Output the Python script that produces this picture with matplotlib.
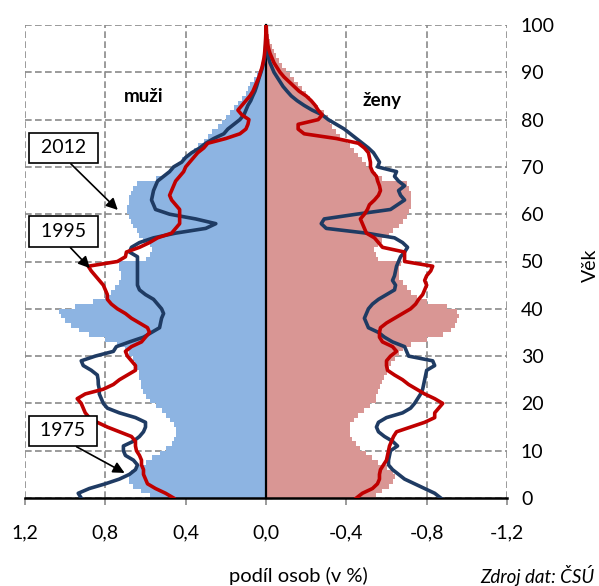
import matplotlib
matplotlib.use('Agg')
import matplotlib.pyplot as plt
from matplotlib.ticker import FuncFormatter, FixedLocator

plt.rcParams['font.family'] = ['Lato', 'DejaVu Sans']

ages = list(range(0, 101))

men_2012 = [0.58, 0.62, 0.66, 0.68, 0.68, 0.67, 0.64, 0.60, 0.57, 0.53,
            0.50, 0.47, 0.46, 0.45, 0.45, 0.46, 0.48, 0.50, 0.52, 0.55,
            0.58, 0.60, 0.61, 0.62, 0.62, 0.63, 0.63, 0.64, 0.65, 0.66,
            0.68, 0.70, 0.74, 0.80, 0.88, 0.93, 0.97, 1.00, 1.02, 1.03,
            0.95, 0.86, 0.80, 0.77, 0.75, 0.73, 0.72, 0.72, 0.73, 0.73,
            0.60, 0.58, 0.57, 0.58, 0.61, 0.63, 0.64, 0.66, 0.67, 0.68,
            0.69, 0.69, 0.68, 0.68, 0.67, 0.66, 0.64, 0.55, 0.50, 0.47,
            0.44, 0.42, 0.39, 0.36, 0.34, 0.31, 0.29, 0.27, 0.24, 0.22,
            0.20, 0.18, 0.16, 0.14, 0.12, 0.10, 0.09, 0.08, 0.06, 0.045,
            0.03, 0.022, 0.016, 0.011, 0.007, 0.005, 0.003, 0.002, 0.001, 0.001,
            0.001]

women_2012 = [0.55, 0.58, 0.61, 0.63, 0.64, 0.63, 0.60, 0.56, 0.53, 0.50,
              0.47, 0.45, 0.43, 0.42, 0.42, 0.42, 0.44, 0.46, 0.49, 0.52,
              0.55, 0.55, 0.56, 0.57, 0.58, 0.59, 0.60, 0.61, 0.62, 0.64,
              0.66, 0.68, 0.72, 0.80, 0.88, 0.92, 0.94, 0.95, 0.96, 0.95,
              0.90, 0.80, 0.75, 0.72, 0.70, 0.68, 0.66, 0.66, 0.66, 0.67,
              0.56, 0.55, 0.54, 0.56, 0.58, 0.61, 0.63, 0.66, 0.68, 0.70,
              0.71, 0.72, 0.72, 0.72, 0.72, 0.71, 0.70, 0.58, 0.55, 0.53,
              0.50, 0.48, 0.46, 0.44, 0.42, 0.40, 0.37, 0.35, 0.33, 0.32,
              0.31, 0.29, 0.26, 0.24, 0.22, 0.20, 0.18, 0.16, 0.14, 0.12,
              0.10, 0.08, 0.065, 0.05, 0.04, 0.03, 0.02, 0.015, 0.01, 0.007,
              0.005]

men_1995 = [0.46, 0.50, 0.55, 0.59, 0.60, 0.61, 0.61, 0.62, 0.62, 0.63,
            0.645, 0.65, 0.65, 0.67, 0.73, 0.79, 0.84, 0.88, 0.90, 0.91,
            0.92, 0.94, 0.90, 0.81, 0.76, 0.73, 0.69, 0.65, 0.65, 0.67,
            0.69, 0.70, 0.67, 0.62, 0.60, 0.58, 0.59, 0.63, 0.67, 0.70,
            0.74, 0.77, 0.79, 0.79, 0.80, 0.81, 0.83, 0.85, 0.87, 0.885,
            0.74, 0.70, 0.695, 0.63, 0.58, 0.54, 0.47, 0.45, 0.43, 0.43,
            0.43, 0.43, 0.45, 0.47, 0.48, 0.47, 0.46, 0.45, 0.43, 0.41,
            0.40, 0.38, 0.36, 0.34, 0.31, 0.29, 0.20, 0.13, 0.10, 0.09,
            0.085, 0.12, 0.14, 0.12, 0.10, 0.08, 0.065, 0.055, 0.045, 0.035,
            0.028, 0.02, 0.015, 0.01, 0.007, 0.005, 0.003, 0.002, 0.001, 0.001,
            0.0]

women_1995 = [0.45, 0.48, 0.53, 0.555, 0.565, 0.565, 0.57, 0.585, 0.60, 0.605,
              0.61, 0.615, 0.625, 0.635, 0.65, 0.72, 0.79, 0.84, 0.84, 0.86,
              0.88, 0.84, 0.79, 0.75, 0.71, 0.68, 0.64, 0.605, 0.60, 0.60,
              0.62, 0.65, 0.63, 0.58, 0.565, 0.565, 0.57, 0.60, 0.64, 0.68,
              0.72, 0.745, 0.76, 0.78, 0.79, 0.80, 0.79, 0.80, 0.82, 0.83,
              0.69, 0.69, 0.69, 0.58, 0.56, 0.54, 0.50, 0.49, 0.48, 0.47,
              0.49, 0.505, 0.515, 0.54, 0.56, 0.57, 0.565, 0.556, 0.55, 0.53,
              0.52, 0.52, 0.515, 0.51, 0.49, 0.46, 0.35, 0.19, 0.16, 0.16,
              0.26, 0.28, 0.26, 0.245, 0.225, 0.20, 0.165, 0.14, 0.115, 0.09,
              0.07, 0.055, 0.04, 0.03, 0.02, 0.013, 0.008, 0.005, 0.003, 0.002,
              0.001]

men_1975 = [0.92, 0.935, 0.88, 0.80, 0.73, 0.68, 0.65, 0.64, 0.66, 0.70,
            0.71, 0.71, 0.66, 0.63, 0.61, 0.60, 0.60, 0.65, 0.73, 0.79,
            0.81, 0.82, 0.83, 0.83, 0.835, 0.836, 0.84, 0.87, 0.91, 0.92,
            0.85, 0.76, 0.745, 0.68, 0.61, 0.57, 0.53, 0.525, 0.52, 0.51,
            0.52, 0.54, 0.56, 0.60, 0.63, 0.64, 0.64, 0.64, 0.64, 0.64,
            0.64, 0.64, 0.68, 0.67, 0.63, 0.56, 0.45, 0.30, 0.25, 0.35,
            0.48, 0.55, 0.56, 0.57, 0.565, 0.56, 0.55, 0.54, 0.51, 0.48,
            0.46, 0.42, 0.40, 0.37, 0.33, 0.30, 0.26, 0.21, 0.19, 0.16,
            0.13, 0.11, 0.10, 0.09, 0.076, 0.066, 0.055, 0.047, 0.04, 0.033,
            0.025, 0.018, 0.012, 0.007, 0.005, 0.003, 0.002, 0.001, 0.001, 0.0,
            0.0]

women_1975 = [0.87, 0.84, 0.79, 0.74, 0.69, 0.66, 0.63, 0.61, 0.61, 0.615,
              0.62, 0.655, 0.63, 0.59, 0.56, 0.55, 0.56, 0.60, 0.68, 0.72,
              0.74, 0.755, 0.77, 0.78, 0.785, 0.79, 0.795, 0.80, 0.84, 0.83,
              0.71, 0.70, 0.69, 0.63, 0.59, 0.56, 0.51, 0.50, 0.49, 0.50,
              0.51, 0.53, 0.56, 0.60, 0.64, 0.645, 0.63, 0.64, 0.645, 0.65,
              0.66, 0.67, 0.69, 0.705, 0.68, 0.64, 0.50, 0.30, 0.275, 0.29,
              0.45, 0.62, 0.655, 0.69, 0.67, 0.66, 0.69, 0.66, 0.64, 0.65,
              0.556, 0.565, 0.55, 0.535, 0.51, 0.48, 0.45, 0.42, 0.39, 0.35,
              0.31, 0.28, 0.23, 0.19, 0.155, 0.126, 0.105, 0.085, 0.07, 0.055,
              0.04, 0.03, 0.02, 0.013, 0.008, 0.005, 0.003, 0.002, 0.001, 0.0,
              0.0]

x_ticks = [1.2, 0.8, 0.4, 0.0, -0.4, -0.8, -1.2]
y_ticks = list(range(0, 101, 10))

C_MEN = '#8DB4E2'
C_WOMEN = '#D99694'
C_1995 = '#C00000'
C_1975 = '#1F3B63'

fig = plt.figure(figsize=(5.99, 5.86), dpi=100)
ax = fig.add_axes([25/599, 1-498/586, (507-25)/599, (498-25)/586])

# 2012 bars as one stepped area per sex (one step per age year)
edges = ages + [ages[-1] + 1]
ax.fill_betweenx(edges, 0, men_2012 + [men_2012[-1]], step='post',
                 color=C_MEN, linewidth=0, zorder=1)
ax.fill_betweenx(edges, 0, [-v for v in women_2012] + [-women_2012[-1]],
                 step='post', color=C_WOMEN, linewidth=0, zorder=1)

LW = 2.6
ax.plot(men_1975, ages, color=C_1975, lw=LW, zorder=3, solid_joinstyle='round')
ax.plot([-v for v in women_1975], ages, color=C_1975, lw=LW, zorder=3,
        solid_joinstyle='round')
ax.plot(men_1995, ages, color=C_1995, lw=LW, zorder=4, solid_joinstyle='round')
ax.plot([-v for v in women_1995], ages, color=C_1995, lw=LW, zorder=4,
        solid_joinstyle='round')

ax.set_xlim(1.2, -1.2)
ax.set_ylim(0, 100)
ax.xaxis.set_major_locator(FixedLocator(x_ticks))
ax.yaxis.set_major_locator(FixedLocator(y_ticks))
ax.xaxis.set_major_formatter(FuncFormatter(
    lambda v, p: f"{v:.1f}".replace('.', ',').replace('-0,0', '0,0')))

ax.grid(True, color='#8A8A8A', lw=1.2, ls=(0, (4, 2)), zorder=0)
ax.set_axisbelow(True)

for s in ['top', 'right']:
    ax.spines[s].set_visible(False)
ax.spines['bottom'].set_linewidth(1.8)
ax.spines['bottom'].set_color('black')
ax.spines['left'].set_position(('data', 0))
ax.spines['left'].set_linewidth(1.6)
ax.spines['left'].set_color('black')
ax.spines['left'].set_zorder(2.5)

ax.tick_params(axis='x', direction='out', length=5, width=1.2, color='#8A8A8A',
               labelsize=14, pad=14)
ax.tick_params(axis='y', left=True, right=False, labelleft=False,
               labelright=True, direction='in', length=4, width=1,
               color='#8A8A8A', labelsize=14, pad=10)

ax.text(0.61, 84.8, 'muži', fontweight='bold', fontsize=13.5,
        ha='center', va='center')
ax.text(-0.58, 84.1, 'ženy', fontweight='bold', fontsize=13.5,
        ha='center', va='center')

box = dict(boxstyle='square,pad=0.35', fc='white', ec='black', lw=1.2)
arr = dict(arrowstyle='-|>', color='black', lw=1.2, relpos=(0.5, 0),
           mutation_scale=17, shrinkA=0, shrinkB=0)
ax.annotate(' 2012 ', xy=(0.738, 60.9), xytext=(1.009, 74.0), ha='center',
            va='center', fontsize=14, bbox=box, arrowprops=arr, zorder=6)
ax.annotate(' 1995 ', xy=(0.877, 48.6), xytext=(1.009, 56.3), ha='center',
            va='center', fontsize=14, bbox=box, arrowprops=arr, zorder=6)
ax.annotate(' 1975 ', xy=(0.704, 5.3), xytext=(1.011, 14.2), ha='center',
            va='center', fontsize=14, bbox=box, arrowprops=arr, zorder=6)

fig.text(298/599, 1-576/586, 'podíl osob (v %)', ha='center', va='center',
         fontsize=14.5)
fig.text(595/599, 1-575/586, 'Zdroj dat: ČSÚ', ha='right', va='center',
         fontsize=13.5, style='italic')
fig.text(590/599, 1-265/586, 'Věk', ha='center', va='center', rotation=90,
         fontsize=14)

fig.savefig('out.png', dpi=100)
